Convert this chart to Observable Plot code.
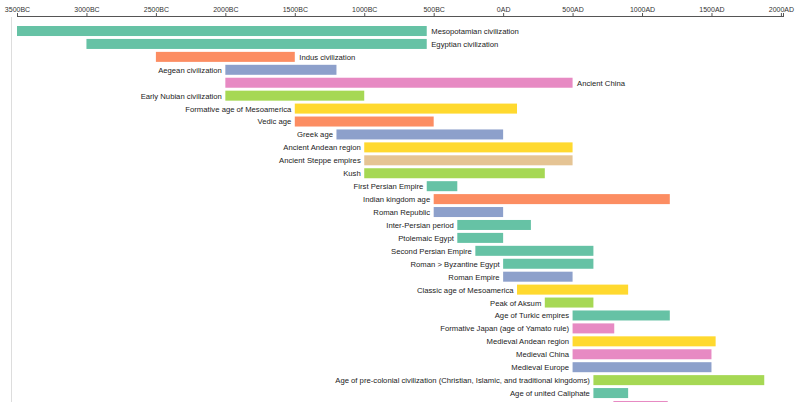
<!DOCTYPE html>
<html><head><meta charset="utf-8">
<script src="https://cdn.jsdelivr.net/npm/d3@7"></script>
<script src="https://cdn.jsdelivr.net/npm/@observablehq/plot@0.6"></script>
<style>html,body{margin:0;padding:0;overflow:hidden;background:#fff}</style>
</head><body><div id="chart"></div>
<script>
const civilizations = [
  "Mesopotamian civilization","Egyptian civilization","Indus civilization","Aegean civilization",
  "Ancient China","Early Nubian civilization","Formative age of Mesoamerica","Vedic age","Greek age",
  "Ancient Andean region","Ancient Steppe empires","Kush","First Persian Empire","Indian kingdom age",
  "Roman Republic","Inter-Persian period","Ptolemaic Egypt","Second Persian Empire","Roman > Byzantine Egypt",
  "Roman Empire","Classic age of Mesoamerica","Peak of Aksum","Age of Turkic empires",
  "Formative Japan (age of Yamato rule)","Medieval Andean region","Medieval China","Medieval Europe",
  "Age of pre-colonial civilization (Christian, Islamic, and traditional kingdoms)","Age of united Caliphate",
  "Heian Japan"
];
const starts = [-3500,-3000,-2500,-2000,-2000,-2000,-1500,-1500,-1200,-1000,-1000,-1000,-550,-500,-500,-330,-330,-200,0,0,100,300,500,500,500,500,500,650,650,794];
const ends   = [-550,-550,-1500,-1200,500,-1000,100,-500,0,500,500,300,-330,1200,0,200,0,650,650,500,900,650,1200,800,1530,1500,1500,1880,900,1185];
const regions = ["Middle East","Middle East","South Asia","Europe","East Asia","Africa","Americas","South Asia","Europe",
  "Americas","Steppe","Africa","Middle East","South Asia","Europe","Middle East","Middle East","Middle East","Middle East",
  "Europe","Americas","Africa","Middle East","East Asia","Americas","East Asia","Europe","Africa","Middle East","East Asia"];
const regionOrder = ["Middle East","South Asia","Europe","East Asia","Africa","Americas","Steppe"];
const tickYears = [-3500,-3000,-2500,-2000,-1500,-1000,-500,0,500,1000,1500,2000];
const domainStart = -3500, domainEnd = 2015;
// the last row is only partly in view; its label falls below the visible area
const visibleLabelRows = 29;

const data = civilizations.map((c, i) => ({civilization: c, start: starts[i], end: ends[i], region: regions[i], row: i}));
const labelled = data.filter(d => d.row < visibleLabelRows);
const labelRight = d => d.start < -2000 || d.end - d.start > 2000;
const fmt = y => y < 0 ? `${-y}BC` : `${y}AD`;
const font = "Liberation Sans, Arial, sans-serif";

const chart = Plot.plot({
  width: 800, height: 421,
  marginTop: 16, marginLeft: 11, marginRight: 17, marginBottom: 0,
  style: {fontFamily: font, background: "#fff", overflow: "visible"},
  x: {domain: [domainStart, domainEnd], insetLeft: 6, axis: null},
  y: {domain: civilizations, axis: null, paddingInner: 0.226, paddingOuter: 0.774, round: false},
  color: {domain: regionOrder, range: d3.schemeSet2},
  marks: [
    Plot.frame({anchor: "left", stroke: "#ddd", insetTop: 1}),
    Plot.frame({anchor: "top", insetLeft: 6, stroke: "#555"}),
    Plot.axisX({anchor: "top", ticks: [...tickYears, domainEnd],
      tickFormat: d => d === domainEnd ? "" : fmt(d),
      tickSize: 4, tickPadding: 0.5, fontSize: 7, stroke: "#555", fill: "#333"}),
    Plot.barX(data, {y: "civilization", x1: "start", x2: "end", fill: "region"}),
    Plot.text(labelled.filter(labelRight), {y: "civilization", x: "end", text: "civilization",
      textAnchor: "start", dx: 4, fontSize: 7.7, fill: "#222"}),
    Plot.text(labelled.filter(d => !labelRight(d)), {y: "civilization", x: "start", text: "civilization",
      textAnchor: "end", dx: -4, fontSize: 7.7, fill: "#222"})
  ]
});
document.getElementById("chart").append(chart);
</script>
</body></html>
